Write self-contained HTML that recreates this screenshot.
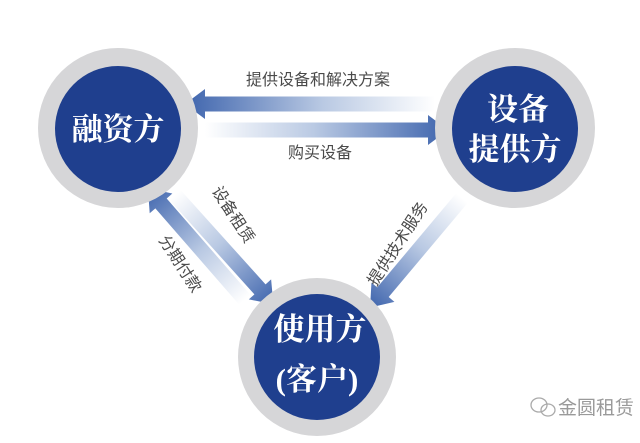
<!DOCTYPE html>
<html><head><meta charset="utf-8"><style>
html,body{margin:0;padding:0;background:#fff;}
svg{display:block}
.c{font-family:"Liberation Serif","Noto Serif CJK SC",serif;font-weight:bold;fill:#fff;font-size:31px;text-anchor:middle}
.l{font-family:"Liberation Sans","Noto Sans CJK SC",sans-serif;fill:#4a4a4a;font-size:16px;text-anchor:middle}
</style></head><body>
<svg width="640" height="443" viewBox="0 0 640 443" xmlns="http://www.w3.org/2000/svg">
<defs>
<linearGradient id="g" x1="0" y1="0" x2="1" y2="0">
<stop offset="0" stop-color="#fff"/>
<stop offset="0.45" stop-color="#b9c9e3"/>
<stop offset="1" stop-color="#3e64ad"/>
</linearGradient>
</defs>
<g transform="translate(435,104) rotate(180)">
<polygon points="0,-7.5 230,-7.5 230,-15 250,0 230,15 230,7.5 0,7.5" fill="url(#g)"/>
</g>
<g transform="translate(205,130)">
<polygon points="0,-7.5 223,-7.5 223,-15 243,0 223,15 223,7.5 0,7.5" fill="url(#g)"/>
</g>
<g transform="translate(175,195) rotate(48)">
<polygon points="0,-7.5 127,-7.5 127,-15 147,0 127,15 127,7.5 0,7.5" fill="url(#g)"/>
</g>
<g transform="translate(245,300) rotate(229)">
<polygon points="0,-7.5 128,-7.5 128,-15 148,0 128,15 128,7.5 0,7.5" fill="url(#g)"/>
</g>
<g transform="translate(462,198) rotate(130)">
<polygon points="0,-7.5 123,-7.5 123,-15 143,0 123,15 123,7.5 0,7.5" fill="url(#g)"/>
</g>
<circle cx="118" cy="128" r="80" fill="#d6d6d8"/>
<circle cx="118" cy="129" r="63" fill="#1f3f8e"/>
<circle cx="515" cy="128" r="80" fill="#d6d6d8"/>
<circle cx="515" cy="129" r="63" fill="#1f3f8e"/>
<circle cx="317" cy="357" r="79" fill="#d6d6d8"/>
<circle cx="317" cy="357" r="63" fill="#1f3f8e"/>
<text class="c" x="118" y="140">融资方</text>
<text class="c" x="518" y="120">设备</text>
<text class="c" x="515" y="160">提供方</text>
<text class="c" x="320" y="340">使用方</text>
<text class="c" x="317" y="390">(客户)</text>
<text class="l" x="318" y="85">提供设备和解决方案</text>
<text class="l" x="320" y="158">购买设备</text>
<text class="l" transform="translate(233,215) rotate(57)" y="5">设备租赁</text>
<text class="l" transform="translate(180,264) rotate(57)" y="5">分期付款</text>
<text class="l" transform="translate(398,244) rotate(-57)" y="5">提供技术服务</text>
<g fill="none" stroke="#aaa" stroke-width="1.3">
<ellipse cx="539" cy="405" rx="8" ry="7"/>
<ellipse cx="548" cy="410" rx="7" ry="6"/>
</g>
<text x="558" y="414" font-family="Liberation Sans,Noto Sans CJK SC,sans-serif" font-size="19" fill="#9a9a9a">金圆租赁</text>
</svg>
</body></html>
